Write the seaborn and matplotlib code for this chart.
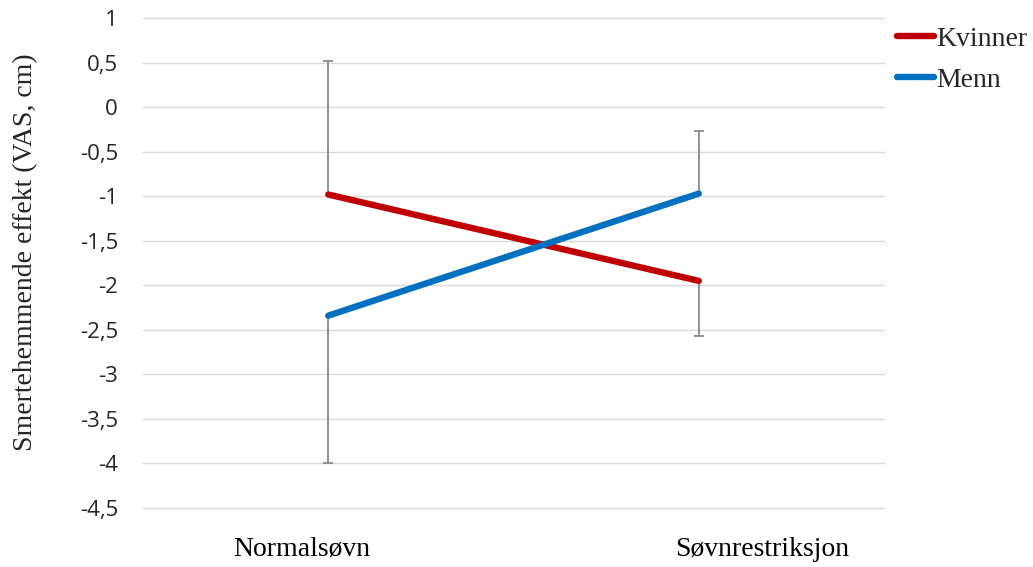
import numpy as np
import pandas as pd
import matplotlib
matplotlib.use("Agg")
import matplotlib.pyplot as plt
import matplotlib.transforms as mtransforms
from matplotlib.lines import Line2D
import seaborn as sns

# Data
conditions = ["Normalsøvn", "Søvnrestriksjon"]
groups = ["Kvinner", "Menn"]
kvinner = [-0.98, -1.95]
menn = [-2.34, -0.97]
# Error bar lengths; each group shows one direction only
kvinner_err_up = [1.50, 0.0]
kvinner_err_down = [0.0, 0.62]
menn_err_up = [0.0, 0.70]
menn_err_down = [1.66, 0.0]
y_ticks = [1, 0.5, 0, -0.5, -1, -1.5, -2, -2.5, -3, -3.5, -4, -4.5]
y_label = "Smertehemmende effekt (VAS, cm)"
colors = {"Kvinner": "#C00000", "Menn": "#0070C0"}

df = pd.DataFrame({
    "Betingelse": conditions * 2,
    "Gruppe": [groups[0]] * 2 + [groups[1]] * 2,
    "Verdi": kvinner + menn,
})

sns.set_theme(style="white")
fig = plt.figure(figsize=(10.33, 5.67), dpi=100)
ax = fig.add_axes([0.1384, 0.104, 0.7174, 0.864])

serif = ["Liberation Serif", "DejaVu Serif"]
sans = ["Open Sans", "DejaVu Sans"]
err_color = "#8a8a8a"
line_w = 4.6

# one-sided error bars behind the lines
xpos = np.arange(len(conditions))
for vals, up, down in [(kvinner, kvinner_err_up, kvinner_err_down),
                       (menn, menn_err_up, menn_err_down)]:
    for x, v, u, d in zip(xpos, vals, up, down):
        for end in ([v + u] if u > 0 else []) + ([v - d] if d > 0 else []):
            ax.vlines(x, v, end, color=err_color, linewidth=1.3, zorder=2)
            ax.plot([x], [end], marker="_", markersize=7, markeredgewidth=1.3,
                    color=err_color, zorder=2)

sns.lineplot(data=df, x="Betingelse", y="Verdi", hue="Gruppe",
             palette=colors, linewidth=line_w, ax=ax, zorder=3,
             solid_capstyle="round", legend=False)

ax.set_xlim(-0.5, 1.5)
ax.set_ylim(-4.5, 1)
ax.set_yticks(y_ticks)
ax.set_yticklabels([f"{t:g}".replace(".", ",") for t in y_ticks],
                   fontfamily=sans, fontsize=16, color="#262626")
ax.tick_params(axis="y", length=0, pad=18)
ax.set_xticks(xpos)
ax.set_xticklabels([])
ax.tick_params(axis="x", length=0)

# category labels, nudged sideways in points
label_shift = [-19, 46]
for x, text, dx in zip(xpos, conditions, label_shift):
    tr = ax.get_xaxis_transform() + mtransforms.ScaledTranslation(
        dx / 72, -30 / 72, fig.dpi_scale_trans)
    ax.text(x, 0, text, transform=tr, ha="center", va="center",
            fontfamily=serif, fontsize=20, color="black")

ax.grid(axis="y", color="#d9d9d9", linewidth=1.0)
for gl in ax.get_ygridlines():
    gl.set_clip_on(False)
ax.set_axisbelow(True)
for s in ax.spines.values():
    s.set_visible(False)
ax.set_xlabel("")
ax.set_ylabel(y_label, fontfamily=serif, fontsize=20)
ax.yaxis.set_label_coords(-0.142, 0.522)

handles = [Line2D([0], [0], color=colors[g], linewidth=line_w, solid_capstyle="round")
           for g in groups]
fig.legend(handles, groups, loc="upper left", bbox_to_anchor=(0.858, 0.973),
           frameon=False, prop={"family": serif, "size": 20},
           handlelength=1.3, handletextpad=0.1, labelspacing=0.55,
           borderaxespad=0)

fig.savefig("out.png", dpi=100)
